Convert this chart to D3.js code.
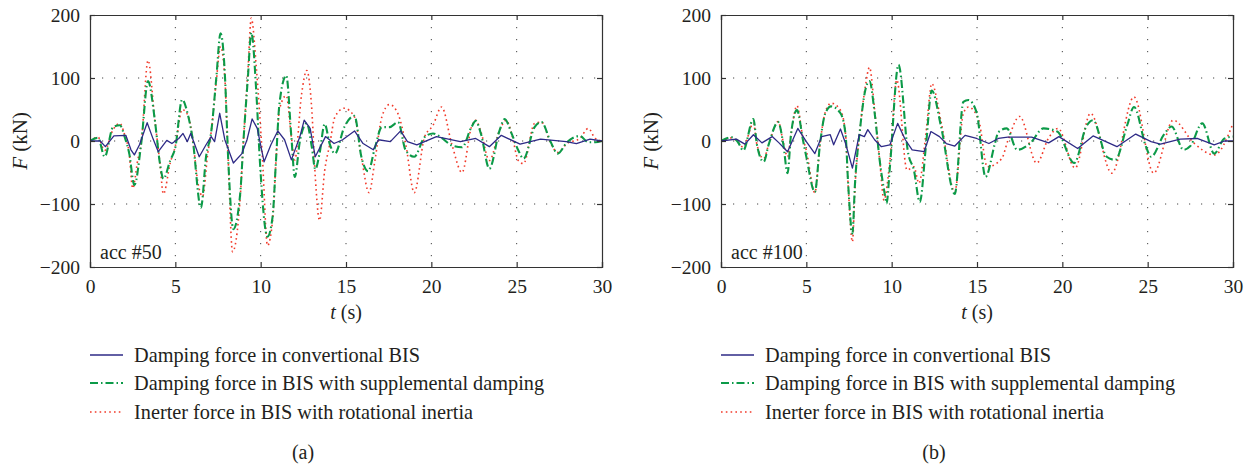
<!DOCTYPE html>
<html><head><meta charset="utf-8">
<script src="https://cdn.jsdelivr.net/npm/d3@7"></script>
<style>body{margin:0;background:#fff}svg{display:block}text{font-family:"Liberation Serif","DejaVu Serif",serif;fill:#231f20}</style>
</head><body><svg id="c" width="1252" height="466"></svg>
<script>
// ---- data (t in s, F in kN) ----
const xTicks = [0, 5, 10, 15, 20, 25, 30];
const yTicks = [200, 100, 0, -100, -200];
const seriesNames = ["Damping force in convertional BIS", "Damping force in BIS with supplemental damping", "Inerter force in BIS with rotational inertia"];
const panelLabels = ["(a)", "(b)"];
const accLabels = ["acc #50", "acc #100"];

const convA = [[0,0],[0.6,0],[0.9,-9],[1.4,8],[2.1,9],[2.4,-14],[2.6,-22],[2.9,-6],[3.35,29],[3.7,3],[4.0,-17],[4.5,1],[4.8,-4],[5.2,4],[5.45,12],[5.7,-1],[5.9,12],[6.4,-25],[6.8,-6],[7.1,7],[7.3,-1],[7.6,44],[7.9,2],[8.4,-35],[8.9,-20],[9.2,2],[9.5,35],[9.8,20],[10.2,-33],[10.6,-6],[11.0,16],[11.4,2],[11.8,-30],[12.3,7],[12.55,33],[12.9,20],[13.2,-25],[13.8,7],[14.3,-4],[14.8,2],[15.5,16],[16.0,-4],[16.6,-14],[16.9,2],[17.6,-1],[18.2,16],[18.6,-1],[19.15,-6],[20.3,7],[21.7,-1],[22.6,4],[23.4,-9],[24.1,9],[25.2,-5],[26.4,3],[27.9,-1],[28.5,-4],[29.3,3],[30,0]];
const suppA = [[0,0],[0.47,5],[0.86,-25],[1.35,22],[1.75,25],[2.05,5],[2.3,-20],[2.6,-70],[3.0,-4],[3.4,95],[3.8,33],[4.1,-36],[4.3,-60],[4.7,-31],[5.0,-10],[5.4,66],[5.75,40],[6.0,6],[6.5,-106],[6.8,-25],[7.1,14],[7.4,100],[7.65,171],[7.9,107],[8.1,-30],[8.4,-140],[8.8,-84],[9.0,4],[9.25,100],[9.45,172],[9.75,75],[9.95,-30],[10.4,-152],[10.7,-120],[10.9,-30],[11.1,59],[11.5,104],[11.8,6],[12.0,-57],[12.3,0],[12.7,28],[13.0,-10],[13.2,-45],[13.45,-20],[13.75,27],[14.05,-5],[14.35,-20],[14.9,22],[15.5,40],[15.9,-25],[16.3,-48],[16.7,-10],[17.1,22],[17.55,22],[18.05,30],[18.5,-15],[19.0,-25],[19.6,6],[20.1,12],[20.6,5],[21.2,-7],[21.8,-10],[22.35,22],[22.6,32],[22.9,12],[23.4,-44],[24.0,17],[24.3,35],[24.7,12],[25.1,-15],[25.4,-28],[26.05,22],[26.45,30],[27.0,-2],[27.4,-20],[27.95,-2],[28.7,8],[29.2,-2],[29.6,-2],[30,0]];
const inertA = [[0,0],[0.47,6],[0.86,-15],[1.35,18],[1.74,28],[2.05,8],[2.3,-20],[2.5,-75],[2.8,-30],[3.0,-4],[3.4,128],[3.8,33],[4.1,-36],[4.3,-84],[4.7,-35],[5.0,-8],[5.4,50],[5.75,40],[6.0,6],[6.35,-70],[6.6,-88],[6.9,-20],[7.1,14],[7.4,95],[7.65,150],[7.9,100],[8.1,-30],[8.35,-176],[8.8,-90],[9.0,4],[9.25,110],[9.45,195],[9.75,115],[10.1,-25],[10.4,-166],[10.7,-125],[10.9,-30],[11.1,50],[11.5,72],[11.8,6],[12.0,-30],[12.4,75],[12.7,112],[13.0,48],[13.2,-57],[13.45,-126],[13.75,-47],[14.05,-5],[14.35,38],[14.9,52],[15.5,38],[15.9,-25],[16.35,-82],[16.7,-30],[17.1,38],[17.55,58],[18.05,43],[18.5,-5],[19.0,-82],[19.6,6],[20.1,25],[20.6,54],[21.2,-5],[21.8,-50],[22.35,22],[22.6,33],[22.9,15],[23.4,-31],[24.0,17],[24.4,33],[24.7,12],[25.1,-31],[25.4,-36],[26.05,28],[26.45,30],[27.0,-4],[27.4,-18],[27.95,-4],[28.7,4],[29.2,20],[29.6,4],[30,0]];

const convB = [[0,0],[0.9,3],[1.4,-5],[1.9,10],[2.4,-3],[3.0,7],[3.4,-3],[3.9,-17],[4.5,20],[5.0,-1],[5.5,-20],[5.9,7],[6.4,10],[6.6,-6],[7.0,19],[7.3,-4],[7.7,-43],[8.1,10],[8.4,7],[8.6,18],[9.0,2],[9.4,-9],[9.9,-6],[10.35,28],[10.8,2],[11.2,-14],[11.9,-17],[12.3,15],[12.8,7],[13.2,-4],[13.7,-8],[14.3,9],[14.98,4],[15.7,-4],[16.25,4],[16.8,6],[17.6,6],[18.2,6],[19.2,-3],[19.8,7],[20.9,-12],[21.8,8],[23.2,-9],[24.3,11],[25.2,-1],[25.75,-5],[26.9,3],[27.9,4],[28.9,-6],[29.5,0],[30,0]];
const suppB = [[0,0],[0.62,6],[1.0,-2],[1.3,-15],[1.9,35],[2.1,-5],[2.5,-33],[2.8,-5],[3.35,30],[3.65,-5],[3.9,-51],[4.1,10],[4.45,49],[4.8,2],[5.0,-25],[5.5,-81],[5.8,-5],[6.1,43],[6.45,55],[7.0,44],[7.3,10],[7.45,-68],[7.7,-147],[7.85,-68],[8.15,20],[8.45,80],[8.7,95],[9.0,45],[9.3,-31],[9.6,-85],[9.7,-99],[9.9,-40],[10.4,121],[10.97,-20],[11.3,-46],[11.65,-97],[12.0,-10],[12.35,80],[12.9,22],[13.7,-84],[14.2,62],[14.5,65],[14.98,45],[15.5,-57],[16.05,-4],[16.25,14],[16.75,20],[17.35,-14],[18.1,-4],[18.9,20],[19.7,15],[20.7,-35],[21.4,23],[21.8,33],[22.6,-25],[23.1,-30],[23.8,25],[24.2,54],[24.9,-9],[25.2,-25],[25.95,10],[26.4,23],[27.1,-14],[27.5,-8],[28.2,28],[28.9,-20],[29.5,4],[30,7]];
const inertB = [[0,0],[0.62,5],[1.0,-2],[1.3,-10],[1.9,28],[2.1,-5],[2.5,-28],[2.8,-5],[3.35,31],[3.65,-2],[3.9,-25],[4.1,10],[4.45,56],[4.8,5],[5.0,-15],[5.5,-82],[5.8,-5],[6.1,45],[6.45,60],[7.0,49],[7.3,10],[7.45,-70],[7.7,-160],[7.85,-75],[8.15,20],[8.45,85],[8.7,117],[9.0,50],[9.3,-31],[9.55,-94],[9.9,-30],[10.3,97],[10.9,-46],[11.3,-41],[11.6,-67],[12.0,10],[12.35,91],[12.9,30],[13.7,-81],[14.2,44],[14.5,54],[15.1,33],[15.6,-41],[16.45,-28],[16.8,0],[17.5,39],[18.5,-35],[19.2,5],[19.75,20],[20.75,-43],[21.65,44],[22.9,-51],[24.2,70],[25.35,-51],[26.5,33],[27.7,-3],[28.9,-22],[30,28]];

// ---- drawing ----
const svg = d3.select("#c");
svg.append("rect").attr("width",1252).attr("height",466).attr("fill","#fff");

const styles = [
  {color:"#2e2a86", width:1.3, dash:null, curve:d3.curveLinear},
  {color:"#0c9a48", width:2.1, dash:"8,3,1.5,3", curve:d3.curveMonotoneX},
  {color:"#f23a2a", width:1.6, dash:"1.6,3.2", curve:d3.curveMonotoneX}
];

const panels = [
  {x0:90, x1:602, data:[convA, suppA, inertA]},
  {x0:721, x1:1233, data:[convB, suppB, inertB]}
];
const yTop = 15, yBot = 267;

panels.forEach((p, i) => {
  const x = d3.scaleLinear().domain([0,30]).range([p.x0, p.x1]);
  const y = d3.scaleLinear().domain([-200,200]).range([yBot, yTop]);
  const g = svg.append("g");

  // grid
  g.append("g").selectAll("line").data(xTicks.slice(1,-1)).join("line")
    .attr("x1", d=>x(d)).attr("x2", d=>x(d)).attr("y1", yTop).attr("y2", yBot)
    .attr("stroke","#444").attr("stroke-width",1).attr("stroke-dasharray","1.2,10.8");
  g.append("g").selectAll("line").data(yTicks.slice(1,-1)).join("line")
    .attr("y1", d=>y(d)).attr("y2", d=>y(d)).attr("x1", p.x0).attr("x2", p.x1)
    .attr("stroke","#444").attr("stroke-width",1).attr("stroke-dasharray","1.2,10.8");

  // series
  const clipId = "clip"+i;
  svg.append("clipPath").attr("id",clipId).append("rect")
    .attr("x",p.x0).attr("y",yTop).attr("width",p.x1-p.x0).attr("height",yBot-yTop);
  const lg = g.append("g").attr("clip-path","url(#"+clipId+")");
  [2,1,0].forEach(k => {
    const st = styles[k];
    const line = d3.line().x(d=>x(d[0])).y(d=>y(d[1])).curve(st.curve);
    lg.append("path").datum(p.data[k]).attr("d", line)
      .attr("fill","none").attr("stroke",st.color).attr("stroke-width",st.width)
      .attr("stroke-dasharray", st.dash).attr("stroke-linejoin","round");
  });

  // axes (ticks inward on all four sides)
  const fmt = d => d < 0 ? "\u2212" + Math.abs(d) : String(d);
  const axB = g.append("g").attr("transform",`translate(0,${yBot})`)
    .call(d3.axisBottom(x).tickValues(xTicks).tickSize(-5).tickPadding(9).tickFormat(fmt));
  const axT = g.append("g").attr("transform",`translate(0,${yTop})`)
    .call(d3.axisTop(x).tickValues(xTicks).tickSize(-5).tickFormat(""));
  const axL = g.append("g").attr("transform",`translate(${p.x0},0)`)
    .call(d3.axisLeft(y).tickValues(yTicks).tickSize(-5).tickPadding(10).tickFormat(fmt));
  const axR = g.append("g").attr("transform",`translate(${p.x1},0)`)
    .call(d3.axisRight(y).tickValues(yTicks).tickSize(-5).tickFormat(""));
  [axB, axT, axL, axR].forEach(a => {
    a.selectAll("path").attr("stroke","#333").attr("stroke-width",1.2);
    a.selectAll("line").attr("stroke","#333").attr("stroke-width",1.2);
    a.selectAll("text").style("font-family",'"Liberation Serif",serif').style("font-size","19.5px").attr("fill","#231f20");
  });
  axB.selectAll("text").attr("dy","0.85em");

  // acc label
  g.append("text").attr("x", p.x0+10).attr("y", yBot-8).style("font-size","20px").text(accLabels[i]);

  // axis titles
  const xt = g.append("text").attr("x",(p.x0+p.x1)/2).attr("y",319).attr("text-anchor","middle").style("font-size","20px");
  xt.append("tspan").style("font-style","italic").text("t");
  xt.append("tspan").text(" (s)");
  const yt = g.append("text").attr("transform",`translate(${p.x0-63},${(yTop+yBot)/2}) rotate(-90)`).attr("text-anchor","middle").style("font-size","21px");
  yt.append("tspan").style("font-style","italic").text("F");
  yt.append("tspan").text(" (kN)");

  // legend
  const lx = p.x0, rows = [355, 383, 412];
  seriesNames.forEach((name, k) => {
    const st = styles[k];
    g.append("line").attr("x1",lx).attr("x2",lx+33).attr("y1",rows[k]).attr("y2",rows[k])
      .attr("stroke",st.color).attr("stroke-width",st.width).attr("stroke-dasharray",st.dash);
    g.append("text").attr("x", lx+44).attr("y", rows[k]).attr("dy","0.35em").style("font-size","20.3px").text(name);
  });

  g.append("text").attr("x",(p.x0+p.x1)/2 - 43).attr("y",452).attr("dy","0.35em").attr("text-anchor","middle").style("font-size","20px").text(panelLabels[i]);
});
</script></body></html>
